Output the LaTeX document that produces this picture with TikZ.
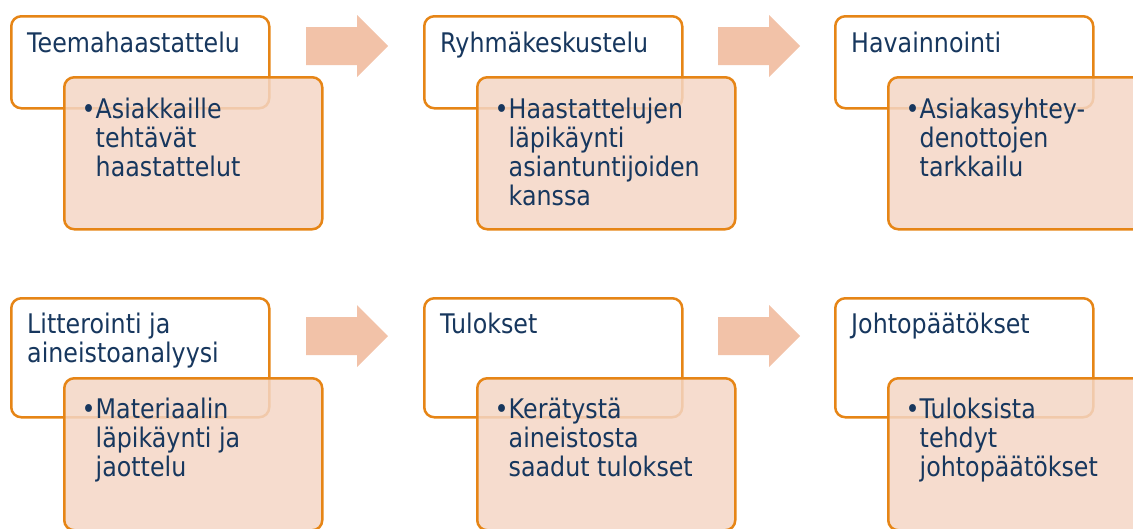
\documentclass[tikz,border=0pt]{standalone}
\usepackage{fontspec}
\setmainfont{DejaVu Sans}[FakeStretch=0.88]
\usetikzlibrary{calc}
\definecolor{d4orange}{RGB}{230,133,22}
\definecolor{d4peach}{RGB}{244,214,197}
\definecolor{d4salmon}{RGB}{242,194,168}
\definecolor{d4navy}{RGB}{23,55,94}
\newcommand{\bpoint}[1]{\textbullet\begin{tabular}[t]{@{}l@{}}#1\end{tabular}}

\begin{document}
\begin{tikzpicture}[x=1pt, y=-1pt,
  head/.style={draw=d4orange, line width=2.5pt, rounded corners=10pt, fill=white, anchor=north west, minimum width=258pt, inner sep=0pt},
  body/.style={draw=d4orange, line width=2.5pt, rounded corners=10pt, fill=d4peach, fill opacity=0.85, anchor=north west, minimum width=258pt, minimum height=152pt, inner sep=0pt},
  title/.style={anchor=north west, inner sep=0pt, align=left, text=d4navy, font=\fontsize{27}{28.5}\selectfont},
  point/.style={anchor=north west, inner sep=0pt, text=d4navy, font=\fontsize{27}{28.5}\selectfont}]
  \useasboundingbox (0,0) rectangle (1133,528);
  % block arrows
  \foreach \ax/\ay in {306/46, 718/46, 306/336, 718/336}
    \fill[d4salmon] (\ax,\ay-19) -- ++(51,0) -- ++(0,-12) -- ++(31,31) -- ++(-31,31) -- ++(0,-12) -- ++(-51,0) -- cycle;
  % first row
  \node[head, minimum height=92pt] (h1) at (10,15) {};
  \node[body] (b1) at ([shift={(53,61)}]h1.north west) {};
  \node[title] (h1txt) at ([shift={(17,17)}]h1.north west) {Teemahaastattelu};
  \node[point] (b1txt) at ([shift={(18.5,22)}]b1.north west) {\bpoint{Asiakkaille\\tehtävät\\haastattelut}};
  \node[head, minimum height=92pt] (h2) at (423,15) {};
  \node[body] (b2) at ([shift={(53,61)}]h2.north west) {};
  \node[title] (h2txt) at ([shift={(17,17)}]h2.north west) {Ryhmäkeskustelu};
  \node[point] (b2txt) at ([shift={(18.5,22)}]b2.north west) {\bpoint{Haastattelujen\\läpikäynti\\asiantuntijoiden\\kanssa}};
  \node[head, minimum height=92pt] (h3) at (834,15) {};
  \node[body] (b3) at ([shift={(53,61)}]h3.north west) {};
  \node[title] (h3txt) at ([shift={(17,17)}]h3.north west) {Havainnointi};
  \node[point] (b3txt) at ([shift={(18.5,22)}]b3.north west) {\bpoint{Asiakasyhtey-\\denottojen\\tarkkailu}};
  % second row
  \node[head, minimum height=119pt] (h4) at (10,297) {};
  \node[body] (b4) at ([shift={(53,80)}]h4.north west) {};
  \node[title] (h4txt) at ([shift={(17,16)}]h4.north west) {Litterointi ja\\aineistoanalyysi};
  \node[point] (b4txt) at ([shift={(18.5,21)}]b4.north west) {\bpoint{Materiaalin\\läpikäynti ja\\jaottelu}};
  \node[head, minimum height=119pt] (h5) at (423,297) {};
  \node[body] (b5) at ([shift={(53,80)}]h5.north west) {};
  \node[title] (h5txt) at ([shift={(17,16)}]h5.north west) {Tulokset};
  \node[point] (b5txt) at ([shift={(18.5,21)}]b5.north west) {\bpoint{Kerätystä\\aineistosta\\saadut tulokset}};
  \node[head, minimum height=119pt] (h6) at (834,297) {};
  \node[body] (b6) at ([shift={(53,80)}]h6.north west) {};
  \node[title] (h6txt) at ([shift={(17,16)}]h6.north west) {Johtopäätökset};
  \node[point] (b6txt) at ([shift={(18.5,21)}]b6.north west) {\bpoint{Tuloksista\\tehdyt\\johtopäätökset}};
\end{tikzpicture}
\end{document}
